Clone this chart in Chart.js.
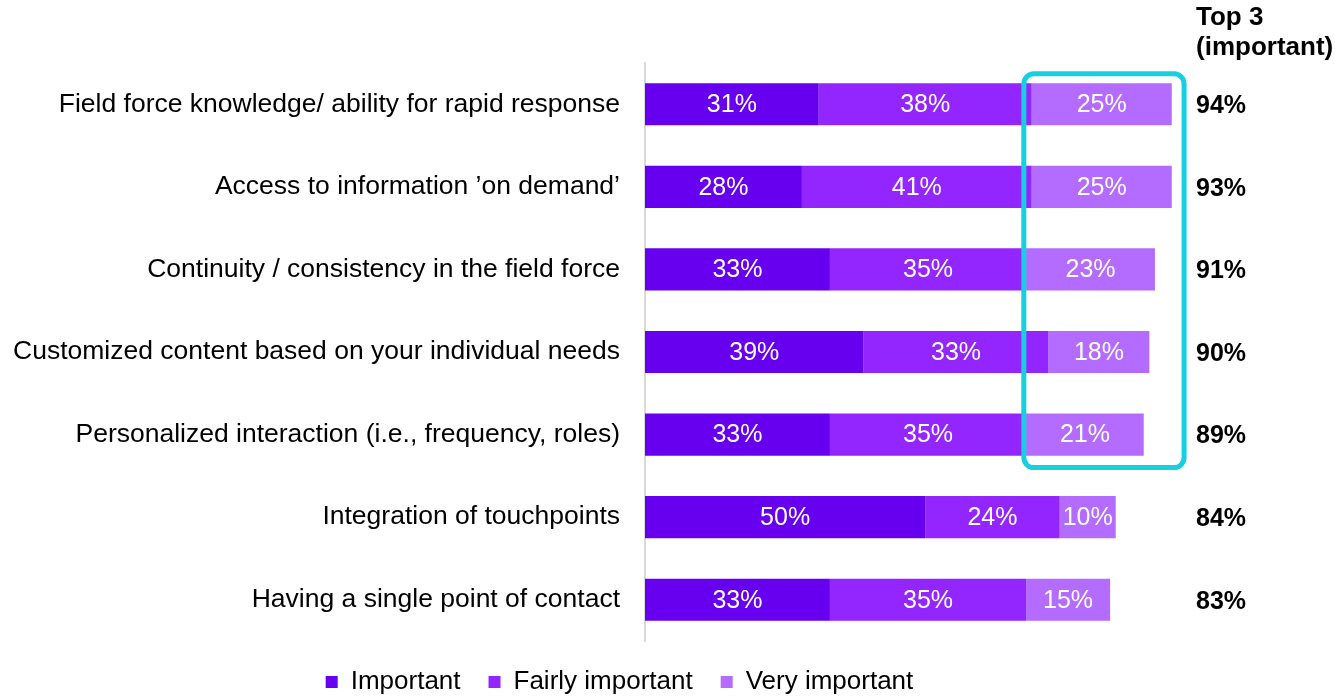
<!DOCTYPE html>
<html>
<head>
<meta charset="utf-8">
<script src="https://cdn.jsdelivr.net/npm/chart.js@4.4.1/dist/chart.umd.min.js"></script>
<style>
  html, body { margin: 0; padding: 0; background: #fff; }
  #wrap { width: 1335px; height: 698px; position: relative; }
</style>
</head>
<body>
<div id="wrap"><canvas id="barChart"></canvas></div>
<script>
var categories = [
    'Field force knowledge/ ability for rapid response',
    'Access to information \u2019on demand\u2019',
    'Continuity / consistency in the field force',
    'Customized content based on your individual needs',
    'Personalized interaction (i.e., frequency, roles)',
    'Integration of touchpoints',
    'Having a single point of contact'
];
var seriesNames = ['Important', 'Fairly important', 'Very important'];
var important = [31, 28, 33, 39, 33, 50, 33];
var fairlyImportant = [38, 41, 35, 33, 35, 24, 35];
var veryImportant = [25, 25, 23, 18, 21, 10, 15];
var top3 = [94, 93, 91, 90, 89, 84, 83];
var top3Header = ['Top 3', '(important)'];
// highlight box spans these rows / values
var highlightRows = [0, 4];
var highlightRange = [67.6, 96.2];

var FONT = "'Liberation Sans', Arial, sans-serif";
var colors = ['#6600EE', '#9326FF', '#B36CFF'];

// white % inside each bar piece
var barLabels = {
    id: 'barLabels',
    afterDatasetsDraw: function (chart) {
        var ctx = chart.ctx;
        ctx.save();
        ctx.font = '25px ' + FONT;
        ctx.fillStyle = '#ffffff';
        ctx.textAlign = 'center';
        ctx.textBaseline = 'middle';
        chart.data.datasets.forEach(function (ds, i) {
            var meta = chart.getDatasetMeta(i);
            meta.data.forEach(function (bar, j) {
                var p = bar.getProps(['x', 'y', 'base'], true);
                ctx.fillText(ds.data[j] + '%', (p.x + p.base) / 2, p.y + 1);
            });
        });
        ctx.restore();
    }
};

// cyan box + top 3 column
var extras = {
    id: 'extras',
    afterDatasetsDraw: function (chart) {
        var ctx = chart.ctx;
        var x = chart.scales.x, y = chart.scales.y;
        var band = y.getPixelForValue(1) - y.getPixelForValue(0);
        var left = x.getPixelForValue(highlightRange[0]);
        var right = x.getPixelForValue(highlightRange[1]);
        var top = y.getPixelForValue(highlightRows[0]) - band * 0.37;
        var bottom = y.getPixelForValue(highlightRows[1]) + band * 0.40;
        ctx.save();
        ctx.strokeStyle = '#17D0DF';
        ctx.lineWidth = 5;
        ctx.beginPath();
        ctx.roundRect(left, top, right - left, bottom - top, 10);
        ctx.stroke();

        ctx.fillStyle = '#000000';
        ctx.font = 'bold 25px ' + FONT;
        ctx.textAlign = 'left';
        ctx.textBaseline = 'middle';
        var tx = 1196;
        top3.forEach(function (v, j) {
            ctx.fillText(v + '%', tx, y.getPixelForValue(j) + 2);
        });
        ctx.font = 'bold 26px ' + FONT;
        ctx.fillText(top3Header[0], tx, 18);
        ctx.fillText(top3Header[1], tx, 48);
        ctx.restore();
    }
};

var barChartData = {
    labels: categories,
    datasets: [
        { label: seriesNames[0], data: important, backgroundColor: colors[0] },
        { label: seriesNames[1], data: fairlyImportant, backgroundColor: colors[1] },
        { label: seriesNames[2], data: veryImportant, backgroundColor: colors[2] }
    ]
};

var barChartOptions = {
    indexAxis: 'y',
    responsive: true,
    maintainAspectRatio: false,
    animation: false,
    layout: { padding: { top: 63, right: 96, bottom: -7, left: 0 } },
    datasets: { bar: { categoryPercentage: 1, barPercentage: 0.51, borderWidth: 0 } },
    plugins: {
        tooltip: { enabled: false },
        legend: {
            position: 'bottom',
            labels: {
                color: '#000',
                font: { family: FONT, size: 26 },
                boxWidth: 12,
                boxHeight: 12,
                padding: 28
            }
        }
    },
    scales: {
        x: { stacked: true, min: 0, max: 106, display: false },
        y: {
            stacked: true,
            grid: { display: false, drawTicks: false },
            border: { display: true, color: '#D9D9D9', width: 2 },
            ticks: { color: '#000', padding: 25, font: { family: FONT, size: 26.5 } },
            afterFit: function (scale) { scale.width = 645; }
        }
    }
};

var barChartCanvas = document.getElementById('barChart').getContext('2d');
new Chart(barChartCanvas, {
    type: 'bar',
    data: barChartData,
    options: barChartOptions,
    plugins: [barLabels, extras]
});
</script>
</body>
</html>
